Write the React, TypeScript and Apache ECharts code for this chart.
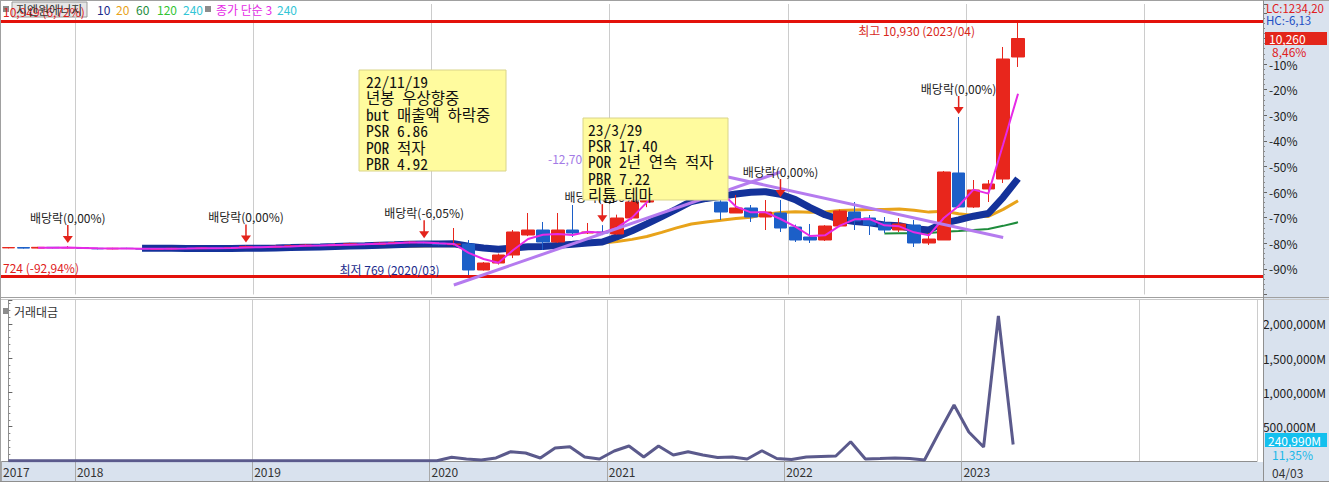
import React, { useEffect, useRef } from 'react';
import * as echarts from 'echarts';

// ---------- categories (monthly) ----------
const months: string[] = [];
{
  let y = 2017;
  let m = 8;
  while (months.length < 85) {
    months.push(`${y}/${String(m).padStart(2, '0')}`);
    m++;
    if (m > 12) { m = 1; y++; }
  }
}

// ---------- monthly candles: [open, close, low, high] from 2017/08 ----------
const ohlc: number[][] = [
  // 2017/08 - 2017/12
  [1870, 1880, 1850, 1900], [1880, 1860, 1840, 1900], [1860, 1890, 1850, 1910], [1890, 1870, 1850, 1900], [1870, 1880, 1850, 1940],
  // 2018
  [1880, 1850, 1830, 1900], [1850, 1830, 1810, 1870], [1830, 1850, 1810, 1870], [1850, 1840, 1820, 1870],
  [1840, 1820, 1800, 1860], [1820, 1830, 1800, 1850], [1830, 1850, 1810, 1870], [1850, 1840, 1820, 1870],
  [1840, 1860, 1820, 1880], [1860, 1850, 1820, 1880], [1850, 1870, 1830, 1890], [1880, 1920, 1860, 1960],
  // 2019
  [1920, 1900, 1880, 1950], [1900, 1930, 1880, 1960], [1930, 1950, 1900, 1990], [1950, 1980, 1930, 2020],
  [1980, 1960, 1930, 2010], [1960, 2000, 1940, 2040], [2000, 2030, 1970, 2070], [2030, 2010, 1970, 2060],
  [2010, 2060, 1990, 2100], [2060, 2080, 2020, 2120], [2080, 2100, 2040, 2140], [2100, 2060, 2020, 2130],
  // 2020
  [2060, 2000, 1970, 2100], [2000, 2024, 1950, 2665], [2024, 982, 769, 2184], [982, 1262, 960, 1300],
  [1262, 1583, 1200, 1640], [1583, 2505, 1460, 2585], [2385, 2585, 2340, 3266], [2585, 2104, 1784, 2906],
  [2104, 2585, 2064, 3266], [2585, 2465, 2305, 3587], [2465, 2505, 2425, 2866], [2505, 2465, 2380, 2780],
  // 2021
  [2425, 3066, 2400, 3200], [3066, 3707, 3000, 4100], [3707, 4300, 3500, 4700], [4300, 5400, 4100, 5800],
  [5400, 5600, 5000, 6000], [5600, 5200, 4900, 6100], [5200, 3800, 3790, 5500], [3707, 3306, 2986, 4000],
  [3266, 3467, 3266, 3987], [3467, 3106, 2906, 3587], [3106, 3306, 2585, 3787], [3266, 2665, 2505, 3787],
  // 2022
  [2705, 2184, 2104, 2800], [2304, 2184, 2064, 2826], [2184, 2745, 2144, 2780], [2745, 3346, 2700, 3400],
  [3306, 2946, 2585, 3707], [3066, 2785, 2385, 3186], [2866, 2585, 2465, 3106], [2585, 2825, 2505, 3066],
  [2785, 2064, 1904, 2986], [2064, 2224, 1984, 2465], [2184, 4910, 2184, 4950], [4870, 3507, 3480, 7114],
  // 2023
  [3507, 4189, 3467, 4589], [4229, 4429, 3707, 4589], [4629, 9439, 4469, 9920], [9519, 10260, 9119, 10930],
];

// ---------- monthly trading value (거래대금, million won) ----------
const turnover: number[] = [
  4000, 3500, 5000, 4200, 3800,
  4500, 3000, 3600, 4100, 5200, 3900, 3400, 4800, 4300, 3700, 3300, 4600,
  3900, 4200, 5100, 4400, 3800, 4700, 5300, 4100, 3600, 4900, 4500, 5000,
  4000, 54000, 29000, 15000, 44000, 136000, 117000, 44000, 190000, 208000, 58000, 29000,
  146000, 219000, 58000, 219000, 87000, 136000, 87000, 51000, 58000, 29000, 150000, 36000,
  22000, 58000, 66000, 73000, 281000, 29000, 36000, 44000, 36000, 15000, 423000, 816000,
  423000, 204000, 2114000, 240990,
];

// ---------- ex-dividend markers ----------
const divMonths: string[] = ['2017/12', '2018/12', '2019/12', '2020/12', '2021/12', '2022/12'];
const divLabels: string[] = ['배당락(0,00%)', '배당락(0,00%)', '배당락(-6,05%)', '배당락(0,00%)', '배당락(0,00%)', '배당락(0,00%)'];

// ---------- trend lines ----------
const riseLine: [string, number][] = [['2020/02', 381], ['2021/12', 4910]];
const riseLabels: string[] = ['18,80(997,03%)', '4,555,92'];
const fallLine: [string, number][] = [['2021/08', 4770], ['2023/03', 2287.8]];
const fallLabels: string[] = ['', '2,287,80'];

// ---------- horizontal reference lines ----------
const hiLine = 10949;
const hiLineLabel = '10,949 (6,72%)';
const loLine = 724;
const loLineLabel = '724 (-92,94%)';
const baseClose = 10260;

// ---------- axis tick labels ----------
const yearLabels: string[] = ['2017', '2018', '2019', '2020', '2021', '2022', '2023'];

// ---------- annotation notes ----------
const note1: string[] = ['22/11/19', '년봉 우상향중', 'but 매출액 하락중', 'PSR 6.86', 'POR 적자', 'PBR 4.92'];
const note2: string[] = ['23/3/29', 'PSR 17.40', 'POR 2년 연속 적자', 'PBR 7.22', '리튬 테마'];

const FONT = '"Noto Sans CJK KR", "Noto Sans", sans-serif';
const MONO = '"Noto Sans Mono CJK KR", "Noto Sans CJK KR", monospace';

const closes = ohlc.map((d) => d[1]);
function ma(n: number) {
  return months.map((_, i) => {
    if (i >= closes.length || i < n - 1) return '-';
    let s = 0;
    for (let k = i - n + 1; k <= i; k++) s += closes[k];
    return +(s / n).toFixed(2);
  });
}

const candleData = months.map((_, i) => (i < ohlc.length ? ohlc[i] : '-'));
const volData = months.map((_, i) => (i < turnover.length ? turnover[i] : '-'));
const isJan = (idx: number) => months[idx] !== undefined && months[idx].endsWith('/01');
const yearPos = yearLabels.map((y) => months.findIndex((m) => m.startsWith(y)) - 0.5);

const UP = '#e8261c';
const DOWN = '#1c5fc8';
const TREND = '#b57bef';

export default function App() {
  const ref = useRef<HTMLDivElement>(null);
  useEffect(() => {
    if (!ref.current) return;
    const chart = echarts.init(ref.current, null, { renderer: 'svg' });
    const priceMax = 11643;
    const volMax = 2347000;

    const txt = (text: string, x: number, y: number, fill: string, extra: any = {}) => ({
      type: 'text',
      z: 20,
      silent: true,
      style: { text, x, y, fill, fontSize: 12, fontFamily: FONT, verticalAlign: 'middle', ...extra },
    });

    const option: any = {
      animation: false,
      textStyle: { fontFamily: FONT },
      grid: [
        { left: 1, right: 66, top: 4, height: 290.5 },
        { left: 1, right: 66, top: 300, height: 161 },
      ],
      xAxis: [
        {
          type: 'category', gridIndex: 0, data: months, boundaryGap: true,
          axisLine: { show: false }, axisTick: { show: false }, axisLabel: { show: false },
          splitLine: { show: true, interval: (i: number) => isJan(i), lineStyle: { color: '#cccccc', width: 1 } },
        },
        {
          type: 'category', gridIndex: 1, data: months, boundaryGap: true,
          axisLine: { show: false }, axisTick: { show: false }, axisLabel: { show: false },
          splitLine: { show: true, interval: (i: number) => isJan(i), lineStyle: { color: '#cccccc', width: 1 } },
        },
        {
          type: 'value', gridIndex: 1, min: -0.5, max: months.length - 0.5, position: 'bottom',
          axisLine: { show: true, lineStyle: { color: '#8f8f8f', width: 1 } },
          axisTick: { show: true, customValues: yearPos, length: 20, inside: false, lineStyle: { color: '#a8a8a8' } },
          axisLabel: {
            show: true, customValues: yearPos, align: 'left', margin: 4, color: '#333', fontSize: 12,
            fontFamily: FONT, padding: [0, 0, 0, 2],
            formatter: (v: number) => {
              const k = yearPos.findIndex((p) => Math.abs(p - v) < 1e-6);
              return k >= 0 ? yearLabels[k] : '';
            },
          },
          splitLine: { show: false },
        },
      ],
      yAxis: [
        {
          type: 'value', gridIndex: 0, position: 'right', min: 0, max: priceMax, interval: baseClose / 10,
          axisLine: { show: true, lineStyle: { color: '#8f8f8f' } },
          axisTick: { show: true, length: 4, lineStyle: { color: '#666' } },
          minorTick: { show: true, splitNumber: 5, length: 2, lineStyle: { color: '#888' } },
          splitLine: { show: false },
          axisLabel: {
            color: '#222', fontSize: 12, margin: 6, fontFamily: FONT,
            formatter: (v: number) => {
              const r = v / (baseClose / 10);
              if (Math.abs(r - Math.round(r)) > 1e-6) return '';
              const p = Math.round((v / baseClose) * 100 - 100);
              if (p >= 0 || p <= -100) return '';
              return `${p}%`;
            },
          },
        },
        {
          type: 'value', gridIndex: 1, position: 'right', min: 0, max: volMax, interval: 500000,
          axisLine: { show: true, lineStyle: { color: '#8f8f8f' } },
          axisTick: { show: true, length: 4, lineStyle: { color: '#666' } },
          minorTick: { show: true, splitNumber: 5, length: 2, lineStyle: { color: '#888' } },
          splitLine: { show: false },
          axisLabel: {
            color: '#222', fontSize: 12, margin: 6, fontFamily: FONT,
            formatter: (v: number) => {
              if (v <= 0 || v % 500000 !== 0) return '';
              return v.toLocaleString('en-US') + 'M';
            },
          },
        },
      ],
      series: [
        {
          name: 'MA20', type: 'line', xAxisIndex: 0, yAxisIndex: 0, data: ma(20), showSymbol: false,
          lineStyle: { color: '#e8a31a', width: 3 }, itemStyle: { color: '#e8a31a' }, z: 2,
        },
        {
          name: 'MA60', type: 'line', xAxisIndex: 0, yAxisIndex: 0, data: ma(60), showSymbol: false,
          lineStyle: { color: '#1e8c3c', width: 2 }, itemStyle: { color: '#1e8c3c' }, z: 2,
        },
        {
          name: 'MA10', type: 'line', xAxisIndex: 0, yAxisIndex: 0, data: ma(10), showSymbol: false,
          lineStyle: { color: '#14329a', width: 7 }, itemStyle: { color: '#14329a' }, z: 2,
        },
        {
          name: 'price', type: 'candlestick', xAxisIndex: 0, yAxisIndex: 0, data: candleData, barWidth: 13, z: 3,
          itemStyle: { color: UP, color0: DOWN, borderColor: UP, borderColor0: DOWN, borderWidth: 1 },
          markLine: {
            silent: true, symbol: ['none', 'none'],
            lineStyle: { color: '#e3120b', width: 3, type: 'solid' },
            data: [
              { yAxis: hiLine, label: { show: true, position: 'insideStartTop', formatter: hiLineLabel, color: '#e0201c', fontSize: 12, distance: [2, 4] } },
              { yAxis: loLine, label: { show: true, position: 'insideStartTop', formatter: loLineLabel, color: '#e0201c', fontSize: 12, distance: [2, 3] } },
            ],
          },
          markPoint: {
            symbol: 'circle', symbolSize: 0, silent: true,
            data: [
              {
                coord: ['2023/04', 10930],
                label: { show: true, position: [-43, 9], align: 'right', verticalAlign: 'middle', formatter: '최고 10,930 (2023/04)', color: '#d8281c', fontSize: 12 },
              },
              {
                coord: ['2020/03', 769],
                label: { show: true, position: [-29, -6], align: 'right', verticalAlign: 'middle', formatter: '최저 769 (2020/03)', color: '#1c2c8c', fontSize: 12 },
              },
            ],
          },
        },
        {
          name: 'MA3', type: 'line', xAxisIndex: 0, yAxisIndex: 0, data: ma(3), showSymbol: false,
          lineStyle: { color: '#e62ae6', width: 2 }, itemStyle: { color: '#e62ae6' }, z: 4,
        },
        {
          name: 'rise', type: 'line', xAxisIndex: 0, yAxisIndex: 0, z: 5, showSymbol: false, symbol: 'none',
          lineStyle: { color: TREND, width: 3 }, itemStyle: { color: TREND },
          data: riseLine.map((d, i) => ({
            value: d,
            label: { show: riseLabels[i] !== '', position: i === 0 ? 'left' : 'right', distance: 6, formatter: riseLabels[i], color: '#a37be6', fontSize: 12 },
          })),
        },
        {
          name: 'fall', type: 'line', xAxisIndex: 0, yAxisIndex: 0, z: 5, showSymbol: false, symbol: 'none',
          lineStyle: { color: TREND, width: 3 }, itemStyle: { color: TREND },
          data: fallLine.map((d, i) => ({
            value: d,
            label: { show: fallLabels[i] !== '', position: 'right', distance: 4, formatter: fallLabels[i], color: '#a37be6', fontSize: 12 },
          })),
        },
        {
          name: 'div', type: 'custom', xAxisIndex: 0, yAxisIndex: 0, z: 6, clip: false,
          encode: { x: 0, y: 1 },
          data: divMonths.map((m) => [m, ohlc[months.indexOf(m)][3]]),
          renderItem: (params: any, api: any) => {
            const p = api.coord([api.value(0), api.value(1)]);
            const x = p[0];
            const y = p[1];
            return {
              type: 'group',
              children: [
                { type: 'line', shape: { x1: x, y1: y - 21, x2: x, y2: y - 9 }, style: { stroke: '#e3231b', lineWidth: 1.5 } },
                { type: 'polygon', shape: { points: [[x - 5, y - 10], [x + 5, y - 10], [x, y - 3]] }, style: { fill: '#e3231b' } },
                {
                  type: 'text',
                  style: { text: divLabels[params.dataIndex], x, y: y - 29, align: 'center', verticalAlign: 'middle', fill: '#222', fontSize: 12, fontFamily: FONT },
                },
              ],
            };
          },
        },
        {
          name: '거래대금', type: 'line', xAxisIndex: 1, yAxisIndex: 1, data: volData, showSymbol: false,
          lineStyle: { color: '#5b5a8c', width: 3 }, itemStyle: { color: '#5b5a8c' },
        },
      ],
      graphic: [
        // backgrounds
        { type: 'rect', z: -10, silent: true, shape: { x: 1263, y: 0, width: 66, height: 482 }, style: { fill: '#d9e2ee' } },
        { type: 'rect', z: -10, silent: true, shape: { x: 0, y: 462, width: 1329, height: 20 }, style: { fill: '#d9e2ee' } },
        { type: 'line', z: 1, silent: true, shape: { x1: 0, y1: 0.5, x2: 1329, y2: 0.5 }, style: { stroke: '#a0a0a0', lineWidth: 1 } },
        { type: 'line', z: 1, silent: true, shape: { x1: 0, y1: 297.5, x2: 1329, y2: 297.5 }, style: { stroke: '#a0a0a0', lineWidth: 1 } },
        { type: 'line', z: 1, silent: true, shape: { x1: 0, y1: 299.5, x2: 1329, y2: 299.5 }, style: { stroke: '#c8c8c8', lineWidth: 1 } },
        { type: 'line', z: 1, silent: true, shape: { x1: 1263.5, y1: 0, x2: 1263.5, y2: 482 }, style: { stroke: '#8f8f8f', lineWidth: 1 } },
        { type: 'line', z: 1, silent: true, shape: { x1: 0.5, y1: 0, x2: 0.5, y2: 482 }, style: { stroke: '#a0a0a0', lineWidth: 1 } },
        { type: 'line', z: 1, silent: true, shape: { x1: 0, y1: 481.5, x2: 1329, y2: 481.5 }, style: { stroke: '#8f8f8f', lineWidth: 1 } },
        // legend price pane
        { type: 'rect', z: 0, silent: true, shape: { x: 3, y: 6, width: 6, height: 6 }, style: { fill: '#8c8c8c' } },
        { type: 'rect', z: 0, silent: true, shape: { x: 12, y: 2, width: 75, height: 15 }, style: { fill: '#e6e6e6', stroke: '#9a9a9a', lineWidth: 1 } },
        txt('지엔원에너지', 16, 9.5, '#333', { z: 0 }),
        txt('10', 97, 9.5, '#1a2a8a'),
        txt('20', 116, 9.5, '#e8a31a'),
        txt('60', 136, 9.5, '#1e8c3c'),
        txt('120', 157, 9.5, '#33c433'),
        txt('240', 183, 9.5, '#33c6d6'),
        { type: 'rect', z: 0, silent: true, shape: { x: 205, y: 6, width: 6, height: 6 }, style: { fill: '#8c8c8c' } },
        txt('종가 단순 3', 216, 9.5, '#e62ae6'),
        txt('240', 277, 9.5, '#33c6d6'),
        // legend volume pane
        { type: 'rect', z: 0, silent: true, shape: { x: 3, y: 308, width: 6, height: 6 }, style: { fill: '#8c8c8c' } },
        txt('거래대금', 14, 311, '#333'),
        // stray trend label
        txt('-12,70', 548, 158, '#a37be6'),
        // right panel labels
        txt('LC:1234,20', 1266, 7.5, '#e0201c', { fontSize: 11.5 }),
        txt('HC:-6,13', 1266, 19.5, '#1d4fc4', { fontSize: 11.5 }),
        { type: 'rect', z: 20, silent: true, shape: { x: 1265, y: 32, width: 62, height: 13 }, style: { fill: '#e3261b' } },
        txt('10,260', 1269, 38.5, '#ffffff', { z: 21 }),
        txt('8,46%', 1272, 51, '#e0201c'),
        { type: 'rect', z: 20, silent: true, shape: { x: 1265, y: 433, width: 62, height: 14 }, style: { fill: '#14c0ee' } },
        txt('240,990M', 1268, 440, '#ffffff', { z: 21 }),
        txt('11,35%', 1272, 454, '#20b8e8'),
        txt('04/03', 1272, 472, '#333'),
        // note boxes
        { type: 'rect', z: 100, silent: true, shape: { x: 359, y: 70, width: 147, height: 101 }, style: { fill: '#fffb9e', stroke: '#d9d48a', lineWidth: 1 } },
        {
          type: 'text', z: 101, silent: true,
          style: { text: note1.join('\n'), x: 366, y: 72.5, fill: '#111', fontSize: 15.5, fontFamily: MONO, lineHeight: 16.5, verticalAlign: 'top' },
        },
        { type: 'rect', z: 100, silent: true, shape: { x: 583, y: 118, width: 145, height: 82 }, style: { fill: '#fffb9e', stroke: '#d9d48a', lineWidth: 1 } },
        {
          type: 'text', z: 101, silent: true,
          style: { text: note2.join('\n'), x: 588, y: 120.5, fill: '#111', fontSize: 15.5, fontFamily: MONO, lineHeight: 16.3, verticalAlign: 'top' },
        },
      ],
    };
    chart.setOption(option);
    return () => chart.dispose();
  }, []);
  return <div ref={ref} style={{ position: 'fixed', left: 0, top: 0, width: 1329, height: 482, background: '#fff' }} />;
}
